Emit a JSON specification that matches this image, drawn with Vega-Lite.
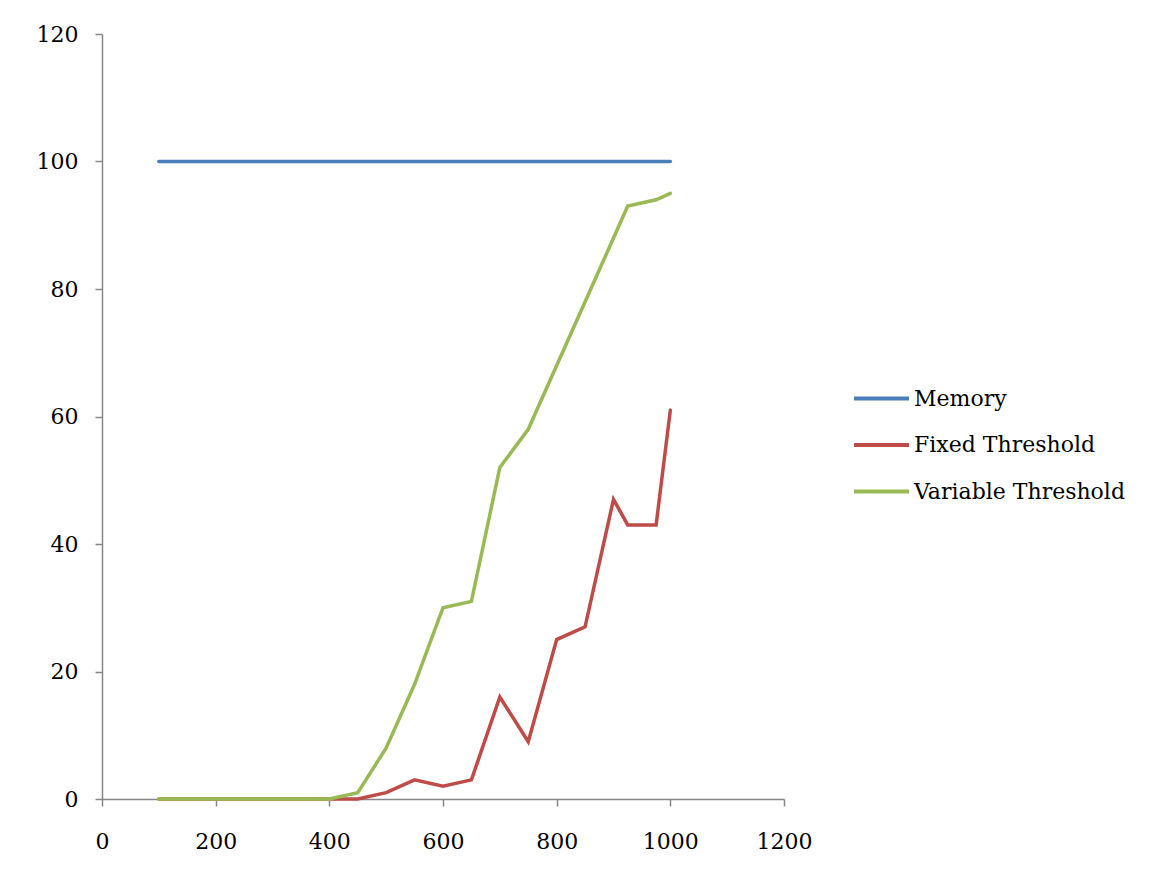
{
  "$schema": "https://vega.github.io/schema/vega-lite/v6.json",
  "autosize": "none",
  "width": 682,
  "height": 765,
  "padding": {"left": 102, "top": 34, "right": 369, "bottom": 83},
  "background": "white",
  "config": {
    "font": "DejaVu Serif",
    "view": {"stroke": null},
    "axis": {
      "grid": false,
      "labelFont": "DejaVu Serif",
      "labelFontSize": 22,
      "labelColor": "black",
      "domainColor": "#868686",
      "domainWidth": 1.5,
      "tickColor": "#868686",
      "tickWidth": 1.5,
      "tickSize": 7,
      "title": null
    },
    "legend": {
      "labelFont": "DejaVu Serif",
      "labelFontSize": 22,
      "labelColor": "black",
      "labelLimit": 0
    }
  },
  "data": {
    "values": [
      {"series": "Memory", "x": 100, "y": 100},
      {"series": "Memory", "x": 150, "y": 100},
      {"series": "Memory", "x": 200, "y": 100},
      {"series": "Memory", "x": 250, "y": 100},
      {"series": "Memory", "x": 300, "y": 100},
      {"series": "Memory", "x": 350, "y": 100},
      {"series": "Memory", "x": 400, "y": 100},
      {"series": "Memory", "x": 450, "y": 100},
      {"series": "Memory", "x": 500, "y": 100},
      {"series": "Memory", "x": 550, "y": 100},
      {"series": "Memory", "x": 600, "y": 100},
      {"series": "Memory", "x": 650, "y": 100},
      {"series": "Memory", "x": 700, "y": 100},
      {"series": "Memory", "x": 750, "y": 100},
      {"series": "Memory", "x": 800, "y": 100},
      {"series": "Memory", "x": 850, "y": 100},
      {"series": "Memory", "x": 900, "y": 100},
      {"series": "Memory", "x": 925, "y": 100},
      {"series": "Memory", "x": 975, "y": 100},
      {"series": "Memory", "x": 1000, "y": 100},
      {"series": "Fixed Threshold", "x": 100, "y": 0},
      {"series": "Fixed Threshold", "x": 150, "y": 0},
      {"series": "Fixed Threshold", "x": 200, "y": 0},
      {"series": "Fixed Threshold", "x": 250, "y": 0},
      {"series": "Fixed Threshold", "x": 300, "y": 0},
      {"series": "Fixed Threshold", "x": 350, "y": 0},
      {"series": "Fixed Threshold", "x": 400, "y": 0},
      {"series": "Fixed Threshold", "x": 450, "y": 0},
      {"series": "Fixed Threshold", "x": 500, "y": 1},
      {"series": "Fixed Threshold", "x": 550, "y": 3},
      {"series": "Fixed Threshold", "x": 600, "y": 2},
      {"series": "Fixed Threshold", "x": 650, "y": 3},
      {"series": "Fixed Threshold", "x": 700, "y": 16},
      {"series": "Fixed Threshold", "x": 750, "y": 9},
      {"series": "Fixed Threshold", "x": 800, "y": 25},
      {"series": "Fixed Threshold", "x": 850, "y": 27},
      {"series": "Fixed Threshold", "x": 900, "y": 47},
      {"series": "Fixed Threshold", "x": 925, "y": 43},
      {"series": "Fixed Threshold", "x": 975, "y": 43},
      {"series": "Fixed Threshold", "x": 1000, "y": 61},
      {"series": "Variable Threshold", "x": 100, "y": 0},
      {"series": "Variable Threshold", "x": 150, "y": 0},
      {"series": "Variable Threshold", "x": 200, "y": 0},
      {"series": "Variable Threshold", "x": 250, "y": 0},
      {"series": "Variable Threshold", "x": 300, "y": 0},
      {"series": "Variable Threshold", "x": 350, "y": 0},
      {"series": "Variable Threshold", "x": 400, "y": 0},
      {"series": "Variable Threshold", "x": 450, "y": 1},
      {"series": "Variable Threshold", "x": 500, "y": 8},
      {"series": "Variable Threshold", "x": 550, "y": 18},
      {"series": "Variable Threshold", "x": 600, "y": 30},
      {"series": "Variable Threshold", "x": 650, "y": 31},
      {"series": "Variable Threshold", "x": 700, "y": 52},
      {"series": "Variable Threshold", "x": 750, "y": 58},
      {"series": "Variable Threshold", "x": 800, "y": 68},
      {"series": "Variable Threshold", "x": 850, "y": 78},
      {"series": "Variable Threshold", "x": 900, "y": 88},
      {"series": "Variable Threshold", "x": 925, "y": 93},
      {"series": "Variable Threshold", "x": 975, "y": 94},
      {"series": "Variable Threshold", "x": 1000, "y": 95}
    ]
  },
  "mark": {"type": "line", "strokeWidth": 3.5, "strokeCap": "round", "strokeJoin": "miter"},
  "encoding": {
    "x": {
      "field": "x",
      "type": "quantitative",
      "scale": {"domain": [0, 1200], "nice": false, "zero": false},
      "axis": {"values": [0, 200, 400, 600, 800, 1000, 1200], "format": "d", "labelPadding": 25, "labelFlush": false, "labelOverlap": false}
    },
    "y": {
      "field": "y",
      "type": "quantitative",
      "scale": {"domain": [0, 120], "nice": false},
      "axis": {"values": [0, 20, 40, 60, 80, 100, 120], "format": "d", "labelPadding": 17, "labelFlush": false, "labelOverlap": false}
    },
    "color": {
      "field": "series",
      "type": "nominal",
      "sort": ["Memory", "Fixed Threshold", "Variable Threshold"],
      "scale": {
        "domain": ["Memory", "Fixed Threshold", "Variable Threshold"],
        "range": ["#4A7EBB", "#BE4B48", "#98B954"]
      },
      "legend": {
        "title": null,
        "orient": "none",
        "legendX": 750,
        "legendY": 335,
        "symbolType": "stroke",
        "symbolSize": 3025,
        "symbolStrokeWidth": 4,
        "labelOffset": 3,
        "rowPadding": 5.5
      }
    }
  }
}
